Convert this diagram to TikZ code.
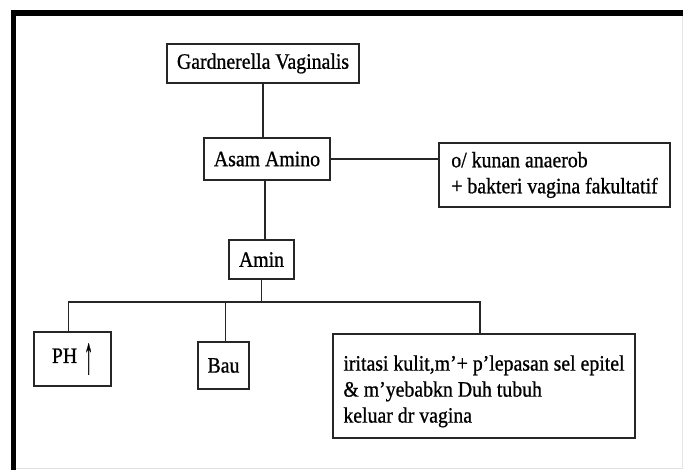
\documentclass[tikz,border=0pt]{standalone}
\usepackage{fontspec}
\setmainfont[FakeStretch=0.9,FakeBold=0.8]{Liberation Serif}
\begin{document}
\begin{tikzpicture}[x=1pt,y=-1pt,
  box/.style={draw=black!85,line width=1.4pt,rectangle,inner sep=0pt,
    font=\fontsize{22}{26}\selectfont,fill=white},
  link/.style={draw=black!85,line width=1.4pt}]
  \useasboundingbox (0,0) rectangle (683,470);
  % page edge and heavy frame
  \fill[white] (0,0) rectangle (683,470);
  \draw[black!12,line width=1pt] (16,468) -- (683,468);
  \draw[black!10,line width=1pt] (682,16) -- (682,468);
  \fill[black] (11,10) rectangle (683,16);
  \fill[black] (11,10) rectangle (16,470);

  % boxes
  \node[box,minimum width=192,minimum height=39] (g) at (263,63.5) {Gardnerella Vaginalis};
  \node[box,minimum width=126,minimum height=42] (a) at (267,159) {Asam Amino};
  \node[box,minimum width=231,minimum height=64,align=left] (r) at (554.5,175)
    {o/ kunan anaerob\\+ bakteri vagina fakultatif};
  \node[box,minimum width=65,minimum height=39] (m) at (261.5,259.5) {Amin};
  \node[box,minimum width=77,minimum height=54] (ph) at (72.5,359)
    {PH\hspace{7pt}\raisebox{-1ex}{\scalebox{0.9}[2.4]{↑}}};
  \node[box,minimum width=51,minimum height=47] (bau) at (223.5,365.5) {Bau};
  \node[box,minimum width=302,minimum height=104,align=left] (eff) at (484,386)
    {\rule{0pt}{26pt}iritasi kulit,m’+ p’lepasan sel epitel\\\& m’yebabkn Duh tubuh\\keluar dr vagina};

  % connectors
  \coordinate (bus) at (262,302);
  \draw[link] (g.south) -- (g.south |- a.north);
  \draw[link] ([xshift=-2pt]a.south) -- ([xshift=-2pt]a.south |- m.north);
  \draw[link] (a.east) -- (a.east -| r.west);
  \draw[link] (m.south) -- (m.south |- bus);
  \draw[link] ([xshift=-4pt]ph.north) |- (bus) -| ([xshift=-4pt]eff.north);
  \draw[link] ([xshift=2pt]bau.north) -- ([xshift=2pt]bau.north |- bus);
\end{tikzpicture}
\end{document}
